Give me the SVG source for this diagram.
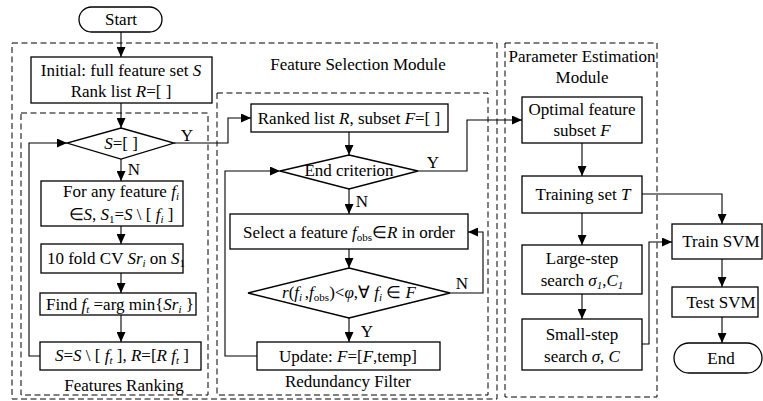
<svg xmlns="http://www.w3.org/2000/svg" width="763" height="401" viewBox="0 0 763 401">
<style>
text{font-family:"Liberation Serif",serif;font-size:17px;fill:#000;text-anchor:middle}
.i{font-style:italic}
.s{font-size:11px}
.box{fill:#fff;stroke:#000;stroke-width:1.3}
.dash{fill:none;stroke:#000;stroke-width:1;stroke-dasharray:6 3.5}
.ln{fill:none;stroke:#000;stroke-width:1.1}
.lnx{fill:none;stroke:#000;stroke-width:1.1;marker-end:url(#arr)}
</style>
<defs>
<marker id="arr" markerUnits="userSpaceOnUse" markerWidth="10" markerHeight="9" refX="10" refY="4.5" orient="auto">
<path d="M0,0 L10,4.5 L0,9 Z" fill="#000"/>
</marker>
</defs>

<g id="modules">
<rect class="dash" x="12" y="43" width="485" height="356"/>
<text x="358" y="70">Feature Selection Module</text>
<rect class="dash" x="21" y="113" width="187" height="282"/>
<text x="124" y="391">Features Ranking</text>
<rect class="dash" x="217" y="93" width="271" height="302"/>
<text x="348" y="387">Redundancy Filter</text>
<rect class="dash" x="505" y="43" width="152" height="354"/>
<text x="582" y="62">Parameter Estimation</text>
<text x="582" y="83">Module</text>
</g>

<g id="connectors">
<line class="lnx" x1="121" y1="32" x2="121" y2="57"/>
<line class="lnx" x1="121" y1="103" x2="121" y2="128"/>
<polyline class="lnx" points="174,143 228,143 228,118 251,118"/>
<line class="lnx" x1="121" y1="159" x2="121" y2="181"/>
<line class="lnx" x1="121" y1="226" x2="121" y2="244"/>
<line class="lnx" x1="121" y1="273" x2="121" y2="293"/>
<line class="lnx" x1="121" y1="315" x2="121" y2="342"/>
<polyline class="lnx" points="40,356 29,356 29,143 67,143"/>
<line class="lnx" x1="349" y1="132" x2="349" y2="155"/>
<polyline class="lnx" points="418,171 467,171 467,120 522,120"/>
<polyline class="lnx" points="257,356 225,356 225,171 280,171"/>
<line class="lnx" x1="349" y1="189" x2="349" y2="214"/>
<line class="lnx" x1="349" y1="249" x2="349" y2="268"/>
<polyline class="lnx" points="450,293 483,293 483,232 468,232"/>
<line class="lnx" x1="349" y1="318" x2="349" y2="342"/>
<line class="lnx" x1="582" y1="143" x2="582" y2="176"/>
<line class="lnx" x1="582" y1="213" x2="582" y2="245"/>
<line class="lnx" x1="582" y1="294" x2="582" y2="319"/>
<polyline class="lnx" points="642,194 722,194 722,224"/>
<polyline class="lnx" points="642,344 649,344 649,242 672,242"/>
<line class="lnx" x1="722" y1="259" x2="722" y2="287"/>
<line class="lnx" x1="722" y1="317" x2="722" y2="343"/>
<text x="187" y="141">Y</text>
<text x="134" y="175">N</text>
<text x="433" y="168">Y</text>
<text x="362" y="207">N</text>
<text x="462" y="289">N</text>
<text x="367" y="337">Y</text>
</g>

<g id="start">
<rect class="box" x="79" y="7" width="83" height="25" rx="12.5"/>
<text x="121" y="25">Start</text>
</g>

<g id="initial">
<rect class="box" x="31" y="57" width="181" height="46"/>
<text x="121" y="76">Initial: full feature set <tspan class="i">S</tspan></text>
<text x="121" y="97">Rank list <tspan class="i">R</tspan>=[ ]</text>
</g>

<g id="cond-s-empty">
<polygon class="box" points="121,128 174,143 121,159 67,143"/>
<text x="121" y="149"><tspan class="i">S</tspan>=[ ]</text>
</g>

<g id="for-any">
<rect class="box" x="41" y="181" width="142" height="45"/>
<text x="121" y="197">For any feature <tspan class="i">f</tspan><tspan class="i s" dy="3">i</tspan></text>
<text x="121" y="220">∈<tspan class="i">S</tspan>, <tspan class="i">S</tspan><tspan class="s" dy="3">1</tspan><tspan dy="-3">=</tspan><tspan class="i">S</tspan> \ [ <tspan class="i">f</tspan><tspan class="i s" dy="3">i</tspan><tspan dy="-3"> ]</tspan></text>
</g>

<g id="cv">
<rect class="box" x="41" y="244" width="142" height="29"/>
<text x="116" y="264">10 fold CV <tspan class="i">Sr</tspan><tspan class="i s" dy="3">i</tspan><tspan dy="-3"> on </tspan><tspan class="i">S</tspan><tspan class="s" dy="3">1</tspan></text>
</g>

<g id="find">
<rect class="box" x="40" y="293" width="156" height="22"/>
<text x="120" y="310">Find <tspan class="i">f</tspan><tspan class="i s" dy="3">t</tspan><tspan dy="-3"> =arg min{</tspan><tspan class="i">Sr</tspan><tspan class="i s" dy="3">i</tspan><tspan dy="-3"> }</tspan></text>
</g>

<g id="update-s">
<rect class="box" x="40" y="342" width="161" height="28"/>
<text x="122" y="361"><tspan class="i">S</tspan>=<tspan class="i">S</tspan> \ [ <tspan class="i">f</tspan><tspan class="i s" dy="3">t</tspan><tspan dy="-3"> ], </tspan><tspan class="i">R</tspan>=[<tspan class="i">R</tspan>  <tspan class="i">f</tspan><tspan class="i s" dy="3">t</tspan><tspan dy="-3"> ]</tspan></text>
</g>

<g id="ranked-list">
<rect class="box" x="251" y="104" width="197" height="28"/>
<text x="349" y="124">Ranked list <tspan class="i">R</tspan>, subset <tspan class="i">F</tspan>=[ ]</text>
</g>

<g id="end-criterion">
<polygon class="box" points="349,155 418,171 349,189 280,171"/>
<text x="349" y="176">End criterion</text>
</g>

<g id="select">
<rect class="box" x="230" y="214" width="238" height="35"/>
<text x="349" y="238">Select a feature <tspan class="i">f</tspan><tspan class="s" dy="3">obs</tspan><tspan dy="-3">∈</tspan><tspan class="i">R</tspan>  in order</text>
</g>

<g id="corr-cond">
<polygon class="box" points="349,268 450,293 349,318 248,293"/>
<text x="349" y="298"><tspan class="i">r</tspan>(<tspan class="i">f</tspan><tspan class="i s" dy="3">i </tspan><tspan dy="-3">,</tspan><tspan class="i">f</tspan><tspan class="s" dy="3">obs</tspan><tspan dy="-3">)&lt;</tspan><tspan class="i">φ</tspan>,∀ <tspan class="i">f</tspan><tspan class="i s" dy="3">i</tspan><tspan dy="-3"> ∈ </tspan><tspan class="i">F</tspan></text>
</g>

<g id="update-f">
<rect class="box" x="257" y="342" width="183" height="28"/>
<text x="348" y="362">Update: <tspan class="i">F</tspan>=[<tspan class="i">F</tspan>,temp]</text>
</g>

<g id="optimal">
<rect class="box" x="522" y="97" width="120" height="46"/>
<text x="582" y="115">Optimal feature</text>
<text x="582" y="136">subset <tspan class="i">F</tspan></text>
</g>

<g id="training-set">
<rect class="box" x="522" y="176" width="120" height="37"/>
<text x="583" y="200">Training set <tspan class="i">T</tspan></text>
</g>

<g id="large-step">
<rect class="box" x="522" y="245" width="120" height="49"/>
<text x="582" y="264">Large-step</text>
<text x="582" y="286">search  <tspan class="i">σ</tspan><tspan class="i s" dy="3">1</tspan><tspan dy="-3">,</tspan><tspan class="i">C</tspan><tspan class="i s" dy="3">1</tspan></text>
</g>

<g id="small-step">
<rect class="box" x="522" y="319" width="120" height="51"/>
<text x="582" y="340">Small-step</text>
<text x="582" y="362">search  <tspan class="i">σ</tspan>, <tspan class="i">C</tspan></text>
</g>

<g id="train-svm">
<rect class="box" x="672" y="224" width="90" height="35"/>
<text x="721" y="247">Train SVM</text>
</g>

<g id="test-svm">
<rect class="box" x="672" y="287" width="86" height="30"/>
<text x="721" y="308">Test SVM</text>
</g>

<g id="end">
<rect class="box" x="674" y="343" width="88" height="30" rx="15"/>
<text x="721" y="364">End</text>
</g>
</svg>
